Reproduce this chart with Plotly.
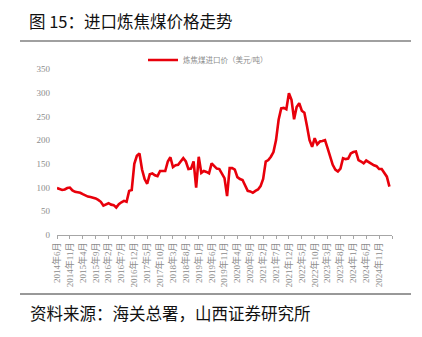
import plotly.graph_objects as go

# Monthly imported coking coal price, 2014-06 .. 2025-03 (USD/t)
start_year, start_month = 2014, 6
price = [
    99, 97, 95, 96, 99, 100, 94, 91, 90, 89,
    86, 83, 81, 80, 79, 77, 74, 70, 62, 65,
    67, 64, 63, 58, 65, 69, 72, 70, 93, 95,
    150, 167, 172, 138, 118, 108, 128, 130, 126, 124,
    135, 135, 135, 155, 164, 143, 147, 148, 155, 162,
    155, 139, 140, 155, 100, 165, 131, 135, 133, 130,
    151, 145, 140, 139, 130, 120, 82, 141, 141, 138,
    122, 118, 116, 105, 93, 92, 89, 93, 96, 103,
    118, 155, 158, 165, 175, 200, 243, 267, 268, 265,
    299, 285, 244, 270, 278, 262, 258, 230, 200, 186,
    204, 191, 197, 198, 200, 183, 165, 148, 138, 134,
    140, 162, 160, 161, 172, 175, 176, 158, 155, 151,
    157, 153, 150, 147, 145, 139, 139, 132, 123, 102,
]
series_name = "炼焦煤进口价（美元/吨）"
title_text = "图 15：进口炼焦煤价格走势"
source_text = "资料来源：海关总署，山西证券研究所"
y_ticks = [0, 50, 100, 150, 200, 250, 300, 350]


def month_label(i):
    m = start_month - 1 + i
    return f"{start_year + m // 12}年{m % 12 + 1}月"


idx = list(range(len(price)))
tick_pos = list(range(0, len(price) + 1, 5))
tick_txt = [month_label(i) if i < len(price) - 4 else "" for i in tick_pos]

W, H = 422, 337
ML, MR, MT, MB = 57, 30, 69, 102
pw, ph = W - ML - MR, H - MT - MB


def px(x):
    return (x - ML) / pw


def py(y):
    return (H - MB - y) / ph


fig = go.Figure()
fig.add_trace(go.Scatter(
    x=idx, y=price, mode="lines", name=series_name,
    line=dict(color="#e8000b", width=2.6),
))

fig.update_layout(
    width=W, height=H,
    margin=dict(l=ML, r=MR, t=MT, b=MB),
    paper_bgcolor="white", plot_bgcolor="white",
    showlegend=True,
    legend=dict(
        orientation="h", x=px(143), xanchor="left", y=py(60), yanchor="middle",
        font=dict(family="Liberation Serif, Noto Sans CJK SC", size=7.5, color="#8c8c8c"),
        itemwidth=30, bgcolor="rgba(0,0,0,0)",
    ),
    xaxis=dict(
        range=[0, len(price)], tickmode="array", tickvals=tick_pos, ticktext=tick_txt,
        tickangle=-90, ticks="outside", ticklen=3, tickcolor="#a6a6a6",
        showline=True, linecolor="#a6a6a6", linewidth=1, showgrid=False, zeroline=False,
        tickfont=dict(family="Liberation Serif, Noto Sans CJK SC", size=9, color="#8c8c8c"),
    ),
    yaxis=dict(
        range=[0, 350], tickvals=y_ticks, showgrid=False, zeroline=False,
        showline=False, ticks="", ticklabelstandoff=6,
        tickfont=dict(family="Liberation Serif", size=9, color="#8c8c8c"),
    ),
    annotations=[
        dict(text=title_text, xref="paper", yref="paper", x=px(27), y=py(21),
             xanchor="left", yanchor="middle", showarrow=False,
             font=dict(family="Noto Sans CJK SC", size=16.5, color="#111111")),
        dict(text=source_text, xref="paper", yref="paper", x=px(28), y=py(313),
             xanchor="left", yanchor="middle", showarrow=False,
             font=dict(family="Noto Sans CJK SC", size=16.5, color="#111111")),
    ],
    shapes=[
        dict(type="line", xref="paper", yref="paper", x0=px(20), x1=px(411),
             y0=py(41), y1=py(41), line=dict(color="#a0a0a0", width=2)),
        dict(type="line", xref="paper", yref="paper", x0=px(20), x1=px(411),
             y0=py(294), y1=py(294), line=dict(color="#333333", width=1)),
    ],
)

fig.write_html("out.html")
